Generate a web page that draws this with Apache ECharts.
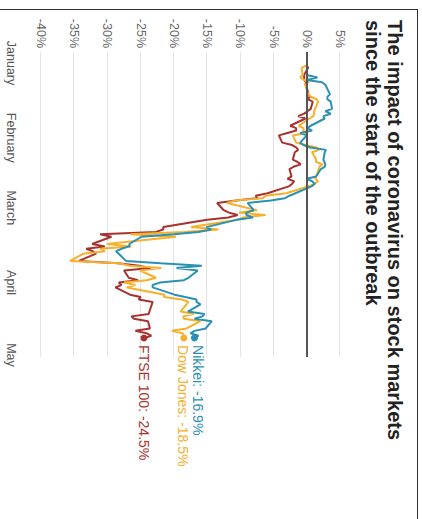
<!DOCTYPE html>
<html>
<head>
<meta charset="utf-8">
<script src="https://cdn.jsdelivr.net/npm/echarts@6/dist/echarts.min.js"></script>
<style>
  html, body { margin: 0; padding: 0; background: #fff; overflow: hidden; width: 422px; height: 519px; }
  #frame { position: absolute; left: 0; top: 0; width: 519px; height: 422px; transform-origin: 0 0; transform: translate(422px, 0) rotate(90deg); background: #fff; }
  #chart { position: absolute; left: 0; top: 0; width: 519px; height: 422px; }
  #border { position: absolute; left: 9px; top: 4px; right: 0; bottom: 0; border-left: 1.5px solid #333; border-top: 1.5px solid #333; pointer-events: none; }
</style>
</head>
<body>
<div id="frame">
  <div id="chart"></div>
  <div id="border"></div>
</div>
<script>
const titleText = 'The impact of coronavirus on stock markets\nsince the start of the outbreak';
const monthNames = ['January', 'February', 'March', 'April', 'May'];
const monthStarts = ['2020-01-01', '2020-02-01', '2020-03-01', '2020-04-01', '2020-05-01'];
const percentTicks = { min: -40, max: 5, step: 5 };

const dates = [
  '2020-01-02','2020-01-03','2020-01-06','2020-01-07','2020-01-08','2020-01-09','2020-01-10',
  '2020-01-13','2020-01-14','2020-01-15','2020-01-16','2020-01-17',
  '2020-01-20','2020-01-21','2020-01-22','2020-01-23','2020-01-24',
  '2020-01-27','2020-01-28','2020-01-29','2020-01-30','2020-01-31',
  '2020-02-03','2020-02-04','2020-02-05','2020-02-06','2020-02-07',
  '2020-02-10','2020-02-11','2020-02-12','2020-02-13','2020-02-14',
  '2020-02-17','2020-02-18','2020-02-19','2020-02-20','2020-02-21',
  '2020-02-24','2020-02-25','2020-02-26','2020-02-27','2020-02-28',
  '2020-03-02','2020-03-03','2020-03-04','2020-03-05','2020-03-06',
  '2020-03-09','2020-03-10','2020-03-11','2020-03-12','2020-03-13',
  '2020-03-16','2020-03-17','2020-03-18','2020-03-19','2020-03-20',
  '2020-03-23','2020-03-24','2020-03-25','2020-03-26','2020-03-27',
  '2020-03-30','2020-03-31',
  '2020-04-01','2020-04-02','2020-04-03',
  '2020-04-06','2020-04-07','2020-04-08','2020-04-09','2020-04-10',
  '2020-04-13','2020-04-14','2020-04-15','2020-04-16','2020-04-17',
  '2020-04-20','2020-04-21','2020-04-22','2020-04-23','2020-04-24'
];

const ftse = [
  0, 0.2, -0.4, -0.4, -0.4, -0.1, -0.2,
  0.2, 0.2, 0.5, 0.1, 0.9,
  0.6, 0.1, -0.4, -1.3, -0.2,
  -2.5, -1.6, -1.6, -2.9, -4.2,
  -3.7, -2.2, -1.6, -1.3, -1.8,
  -2.1, -1.4, -0.9, -2.0, -2.6,
  -2.3, -2.9, -1.9, -2.2, -2.6,
  -5.9, -7.7, -7.4, -10.6, -13.5,
  -12.5, -11.7, -10.4, -11.8, -15.0,
  -21.6, -21.6, -22.7, -31.1, -29.4,
  -32.3, -30.4, -33.2, -32.2, -31.7,
  -34.3, -28.4, -25.2, -23.5, -27.5,
  -26.8, -25.4,
  -28.3, -27.9, -28.8,
  -26.6, -25.0, -25.3, -23.2, null,
  null, -23.8, -26.4, -26.0, -23.9,
  -23.6, -25.8, -24.1, -23.4, -24.5
];

const dowJones = [
  0, -0.8, -0.6, -1.0, -0.4, 0.3, -0.2,
  0.1, 0.3, 0.6, 1.5, 1.7,
  null, 1.1, 1.1, 1.0, 0.4,
  -1.2, -0.5, -0.5, 0.0, -2.1,
  -1.6, -0.2, 1.5, 1.8, 0.8,
  1.4, 1.4, 2.4, 1.9, 1.8,
  null, 1.3, 1.7, 1.2, 0.4,
  -3.1, -6.2, -6.6, -10.8, -12.0,
  -7.5, -10.2, -6.2, -9.5, -10.4,
  -17.4, -13.3, -18.4, -26.6, -19.7,
  -30.1, -26.4, -31.1, -30.4, -33.6,
  -35.6, -28.3, -26.6, -21.9, -25.1,
  -22.7, -24.1,
  -27.5, -25.8, -27.1,
  -21.4, -21.5, -18.8, -17.8, null,
  -19.0, -17.0, -18.6, -18.5, -16.0,
  -18.1, -20.3, -18.7, -18.5, -18.5
];

const nikkei = [
  null, null, 0, 1.6, 0.0, 2.3, 2.8,
  null, 3.5, 3.1, 3.1, 3.6,
  3.8, 2.8, 3.6, 2.5, 2.7,
  0.6, 0.1, 0.8, -1.0, 0.0,
  -1.0, -0.5, 0.5, 2.9, 2.7,
  2.5, null, 2.8, 2.7, 2.1,
  1.4, 0.0, 0.8, 1.2, 0.8,
  null, -2.6, -3.3, -5.4, -8.9,
  -8.0, -9.1, -9.1, -8.1, -10.6,
  -15.1, -14.4, -16.3, -20.0, -24.9,
  -26.7, -26.7, -27.9, -28.7, null,
  -27.2, -22.0, -15.8, -19.6, -16.4,
  -17.8, -18.5,
  -22.1, -23.2, -23.2,
  -19.9, -18.3, -16.6, -16.6, -16.0,
  -17.9, -15.4, -15.7, -16.9, -14.3,
  -15.2, -16.9, -17.5, -16.3, -16.9
];

const seriesNames = ['FTSE 100', 'Dow Jones', 'Nikkei'];
const seriesColors = ['#a8322d', '#f6b02c', '#2a90b4'];
const seriesValues = [ftse, dowJones, nikkei];
const labelOffsets = [[0, 0], [0, 1], [0, -4]];

const FONT = '"Liberation Sans", Arial, Helvetica, sans-serif';
const toTime = s => { const p = s.split('-'); return new Date(+p[0], +p[1] - 1, +p[2]).getTime(); };
const monthTimes = monthStarts.map(toTime);
const dateTimes = dates.map(toTime);
const xMin = new Date(2019, 11, 27, 10, 30).getTime();
const xMax = new Date(2020, 4, 1, 20, 0).getTime();

const chart = echarts.init(document.getElementById('chart'), null, { renderer: 'svg' });

const series = seriesNames.map((name, k) => {
  const vals = seriesValues[k];
  const last = vals.length - 1;
  return {
    name: name,
    type: 'line',
    data: dateTimes.map((t, i) => [t, vals[i]]),
    connectNulls: true,
    showSymbol: true,
    showAllSymbol: true,
    symbol: 'circle',
    symbolSize: (v, p) => (p.dataIndex === last ? 7 : 0),
    lineStyle: { color: seriesColors[k], width: 2 },
    itemStyle: { color: seriesColors[k] },
    emphasis: { disabled: true },
    endLabel: {
      show: true,
      distance: 7,
      offset: labelOffsets[k],
      fontFamily: FONT,
      fontSize: 14,
      color: seriesColors[k],
      formatter: p => p.seriesName + ': ' + Number(p.value[1]).toFixed(1) + '%'
    },
    markLine: k === 0 ? {
      silent: true,
      symbol: 'none',
      label: { show: false },
      lineStyle: { color: '#555', width: 2, type: 'solid' },
      data: [{ yAxis: 0 }]
    } : undefined,
    z: 2 + k
  };
});

chart.setOption({
  animation: false,
  backgroundColor: '#fff',
  textStyle: { fontFamily: FONT },
  title: {
    text: titleText,
    left: 15,
    top: 11,
    textStyle: { fontFamily: FONT, fontSize: 20, fontWeight: 'bold', color: '#222', lineHeight: 22 }
  },
  grid: { left: 52, right: 162, top: 82, bottom: 41 },
  xAxis: {
    type: 'value',
    min: xMin,
    max: xMax,
    axisLine: { show: false },
    axisTick: { show: false },
    splitLine: { show: false },
    axisLabel: {
      customValues: monthTimes,
      hideOverlap: false,
      color: '#555',
      fontSize: 12.5,
      fontFamily: FONT,
      margin: 24,
      formatter: val => {
        const i = monthTimes.findIndex(t => Math.abs(t - val) < 43200000);
        return i >= 0 ? monthNames[i] : '';
      }
    }
  },
  yAxis: {
    type: 'value',
    min: percentTicks.min,
    max: percentTicks.max,
    interval: percentTicks.step,
    axisLine: { show: false },
    axisTick: { show: false },
    splitLine: { lineStyle: { color: '#e4e4e4', width: 1 } },
    axisLabel: { formatter: '{value}%', color: '#666', fontSize: 12.5, fontFamily: FONT, margin: 4 }
  },
  series: series
});
</script>
</body>
</html>
